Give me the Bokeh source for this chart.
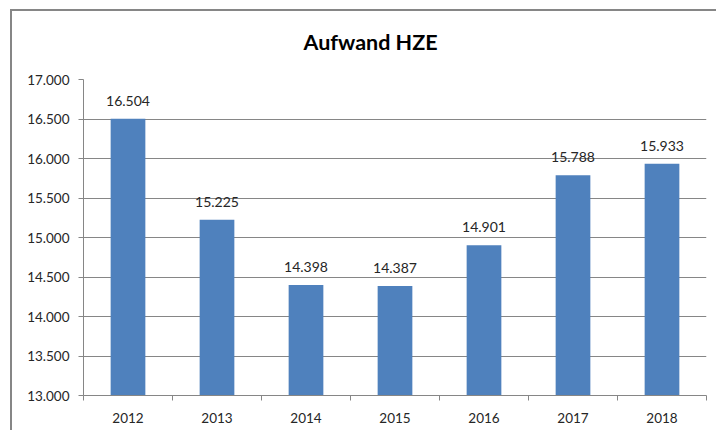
import numpy as np
from bokeh.plotting import figure
from bokeh.models import ColumnDataSource, FixedTicker, Range1d, Title
from bokeh.core.properties import value
from bokeh.embed import file_html
from bokeh.resources import INLINE

# ---- data ----
years = ["2012", "2013", "2014", "2015", "2016", "2017", "2018"]
aufwand = [16504, 15225, 14398, 14387, 14901, 15788, 15933]
value_labels = ["16.504", "15.225", "14.398", "14.387", "14.901", "15.788", "15.933"]
y_ticks = [13000, 13500, 14000, 14500, 15000, 15500, 16000, 16500, 17000]
y_tick_labels = ["13.000", "13.500", "14.000", "14.500", "15.000",
                 "15.500", "16.000", "16.500", "17.000"]
title_text = "Aufwand HZE"

FONT = "Lato"
BLUE = "#4F81BD"
GRAY = "#868686"
TXT = "#262626"

n = len(years)
pos = np.arange(n) + 0.5
src = ColumnDataSource(dict(x=pos, top=aufwand, lab=value_labels))

p = figure(width=716, height=430, output_backend="svg", toolbar_location=None,
           x_range=Range1d(0, n), y_range=Range1d(y_ticks[0], y_ticks[-1]),
           min_border_left=83, min_border_right=10, min_border_top=79,
           min_border_bottom=35)
p.title = None
p.outline_line_color = None
p.background_fill_color = "white"
p.border_fill_color = "white"
p.border_fill_alpha = 0
# outer chart border (left and top edges), painted behind the transparent canvas border
p.styles = {
    "background-color": "white",
    "background-image": "linear-gradient(#868686, #868686), linear-gradient(#868686, #868686)",
    "background-repeat": "no-repeat",
    "background-size": "2px 100%, 100% 2px",
    "background-position": "10px 9px, 10px 9px",
}

p.add_layout(Title(text=title_text, align="left", offset=220, standoff=49,
                   text_font=FONT, text_font_size="21.5px", text_font_style="bold",
                   text_color="black"), "above")

p.vbar(x="x", top="top", bottom=y_ticks[0], width=0.39, source=src,
       fill_color=BLUE, line_color=None)

p.text(x="x", y="top", text="lab", source=src, text_align="center",
       text_baseline="alphabetic", y_offset=-18,
       text_font=value(FONT), text_font_size="14px", text_color=TXT)

# y axis
p.yaxis.ticker = FixedTicker(ticks=y_ticks)
p.yaxis.major_label_overrides = {t: l for t, l in zip(y_ticks, y_tick_labels)}
p.yaxis.axis_line_color = GRAY
p.yaxis.major_tick_line_color = GRAY
p.yaxis.major_tick_out = 5
p.yaxis.major_tick_in = 0
p.yaxis.minor_tick_line_color = None
p.yaxis.major_label_standoff = 9
p.yaxis.major_label_text_font = FONT
p.yaxis.major_label_text_font_size = "13.5px"
p.yaxis.major_label_text_color = TXT

# x axis: labels at centres, ticks at category boundaries
p.xaxis.ticker = FixedTicker(ticks=list(pos), minor_ticks=list(range(n + 1)))
p.xaxis.major_label_overrides = {float(x): y for x, y in zip(pos, years)}
p.xaxis.axis_line_color = GRAY
p.xaxis.major_tick_line_color = None
p.xaxis.major_tick_out = 0
p.xaxis.minor_tick_line_color = GRAY
p.xaxis.minor_tick_out = 5
p.xaxis.minor_tick_in = 0
p.xaxis.major_label_standoff = 12
p.xaxis.major_label_text_font = FONT
p.xaxis.major_label_text_font_size = "13.5px"
p.xaxis.major_label_text_color = TXT

p.xgrid.grid_line_color = None
p.ygrid.ticker = FixedTicker(ticks=y_ticks)
p.ygrid.grid_line_color = GRAY
p.ygrid.grid_line_width = 1

open("out.html", "w").write(file_html(p, INLINE))
